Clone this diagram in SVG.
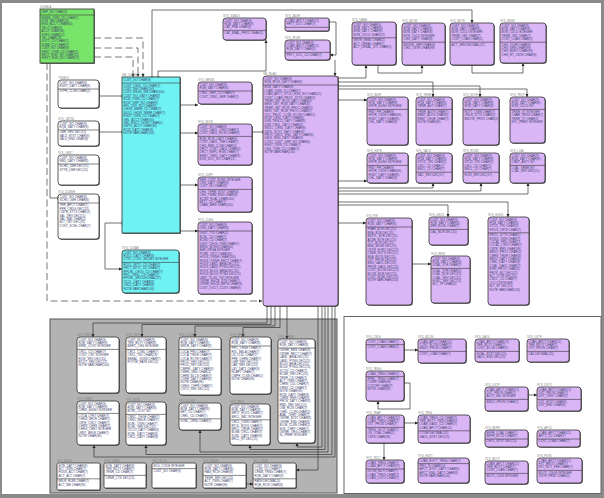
<svg xmlns="http://www.w3.org/2000/svg" width="604" height="498" viewBox="0 0 604 498">
<defs>
<style>
.b{stroke:#333;stroke-width:.8}
.p{fill:#dbb6f7}.c{fill:#6ff2f2}.g{fill:#79e46a}.w{fill:#fff}
.sh{fill:#4a4a4a}
.sep{stroke:#333;stroke-width:.6;fill:none}
.r{font-family:"Liberation Sans",Arial,sans-serif;font-size:3px;fill:#3d3d6b}
.t{font-family:"Liberation Sans",Arial,sans-serif;font-size:2.8px;fill:#808080}
.cn path{fill:none;stroke:#333;stroke-width:.7}
.cn .d{stroke-dasharray:7 3.5;stroke-width:.8;stroke:#555}
</style>
<marker id="arr" viewBox="0 0 6 6" refX="6" refY="3" markerWidth="3.2" markerHeight="3.2" orient="auto" markerUnits="userSpaceOnUse"><path d="M0,0L6,3L0,6z" fill="#222"/></marker>
<marker id="bar" viewBox="0 0 4 8" refX="2" refY="4" markerWidth="2" markerHeight="4" orient="auto" markerUnits="userSpaceOnUse"><path d="M2,0V8" stroke="#222" stroke-width="1.2"/></marker>
</defs>
<rect x="0" y="0" width="604" height="498" fill="#8a8a8a"/>
<rect x="2" y="3" width="599" height="491" fill="#fff"/>
<rect x="50" y="319" width="287" height="174" fill="#b3b3b3" stroke="#555" stroke-width="1"/>
<rect x="344" y="316.5" width="257" height="177" fill="#fff" stroke="#666" stroke-width="1"/>

<g class="cn" id="connectors">
<path class="d" d="M94,38H143V77" marker-end="url(#arr)"/>
<path class="d" d="M94,48H138V77" marker-end="url(#arr)"/>
<path class="d" d="M94,57H133V77" marker-end="url(#arr)"/>
<path class="d" d="M47,63V301H262" marker-end="url(#arr)"/>
<path d="M152,77V10H472V23" marker-start="url(#bar)" marker-end="url(#arr)"/>
<path d="M158,77V71H266V40" marker-start="url(#bar)" marker-end="url(#arr)"/>
<path d="M58,198H50V63" marker-start="url(#bar)"/>
<path d="M99,96H122" marker-start="url(#arr)" marker-end="url(#bar)"/>
<path d="M99,132H122" marker-start="url(#arr)" marker-end="url(#bar)"/>
<path d="M122,223H105V269H122" marker-start="url(#bar)" marker-end="url(#arr)"/>
<path d="M180,105H198" marker-start="url(#bar)" marker-end="url(#arr)"/>
<path d="M180,133H198" marker-start="url(#bar)" marker-end="url(#arr)"/>
<path d="M180,185H198" marker-start="url(#bar)" marker-end="url(#arr)"/>
<path d="M180,231H198" marker-start="url(#bar)" marker-end="url(#arr)"/>
<path d="M252,132H263" marker-start="url(#arr)" marker-end="url(#bar)"/>
<path d="M329,22H336V55H330" marker-end="url(#arr)"/>
<path d="M335,60V76" marker-end="url(#arr)"/>
<path d="M338,78H366V65" marker-start="url(#bar)" marker-end="url(#arr)"/>
<path d="M378,65V73H422V65" marker-start="url(#bar)" marker-end="url(#arr)"/>
<path d="M472,65V73H523V63" marker-start="url(#bar)" marker-end="url(#arr)"/>
<path d="M338,82H433V97" marker-start="url(#bar)" marker-end="url(#arr)"/>
<path d="M338,86H480V97" marker-start="url(#bar)" marker-end="url(#arr)"/>
<path d="M338,89H527V97" marker-start="url(#bar)" marker-end="url(#arr)"/>
<path d="M338,100H367" marker-start="url(#bar)" marker-end="url(#arr)"/>
<path d="M338,181H367" marker-start="url(#bar)" marker-end="url(#arr)"/>
<path d="M338,188H433V183" marker-start="url(#bar)" marker-end="url(#arr)"/>
<path d="M338,191H481V183" marker-start="url(#bar)" marker-end="url(#arr)"/>
<path d="M338,194H528V183" marker-start="url(#bar)" marker-end="url(#arr)"/>
<path d="M338,202H508V217" marker-start="url(#bar)" marker-end="url(#arr)"/>
<path d="M338,205H448V217" marker-start="url(#bar)" marker-end="url(#arr)"/>
<path d="M338,223H366" marker-start="url(#bar)" marker-end="url(#arr)"/>
<path d="M412,264H431" marker-start="url(#bar)" marker-end="url(#arr)"/>
<path d="M267,306V323H93V337" marker-end="url(#arr)"/>
<path d="M271,306V324.5H142V337" marker-end="url(#arr)"/>
<path d="M275,306V326H195V337" marker-end="url(#arr)"/>
<path d="M280,306V327.5H243V337" marker-end="url(#arr)"/>
<path d="M287,306V339" marker-end="url(#arr)"/>
<path d="M335,306V457H94V445" marker-end="url(#arr)"/>
<path d="M332,306V454.5H146V445" marker-end="url(#arr)"/>
<path d="M328,306V452H200V430" marker-end="url(#arr)"/>
<path d="M325,306V449.5H250V445" marker-end="url(#arr)"/>
<path d="M322,306V447H297V443" marker-end="url(#arr)"/>
<path d="M318,306V470H296" marker-end="url(#arr)"/>
<path d="M246,484H253" marker-start="url(#bar)" marker-end="url(#arr)"/>
<path d="M404,350H418" marker-start="url(#bar)" marker-end="url(#arr)"/>
<path d="M404,383H410V409H378V401" marker-start="url(#bar)" marker-end="url(#arr)"/>
<path d="M404,423H418" marker-start="url(#bar)" marker-end="url(#arr)"/>
<path d="M384,443V460" marker-start="url(#bar)" marker-end="url(#arr)"/>
<path d="M528,395H537" marker-start="url(#bar)" marker-end="url(#arr)"/>
</g>

<g id="n-usgbla"><text class="t" x="40" y="7.8">USGBLA</text><rect class="sh" x="40.8" y="9.8" width="54" height="54"/><rect class="b g" x="40" y="9" width="54" height="54"/><path class="sep" d="M40,15h54"/>
<text class="r" y="13.2"><tspan x="41.5">GRP_NO CHAR(9)</tspan></text>
<text class="r" y="18.6"><tspan x="41.5">MGNB_OWN_CD CHAR(7)</tspan><tspan x="41.5" dy="3.4">KOR_NM CHAR(20)</tspan><tspan x="41.5" dy="3.4">ENG_ACCT CHAR(60)</tspan><tspan x="41.5" dy="3.4">TELO CHAR(2)</tspan><tspan x="41.5" dy="3.4">ACCT CHAR(30)</tspan><tspan x="41.5" dy="3.4">STRO CHAR(12)</tspan><tspan x="41.5" dy="3.4">TEL CHAR(18)</tspan><tspan x="41.5" dy="3.4">OUTT_CD CHAR(7)</tspan><tspan x="41.5" dy="3.4">SUBB_CD CHAR(7)</tspan><tspan x="41.5" dy="3.4">CUST_NO CHAR(9)</tspan><tspan x="41.5" dy="3.4">FIRST_OWN_CD CHAR(7)</tspan><tspan x="41.5" dy="3.4">RECT_RGD_NO CHAR(12)</tspan><tspan x="41.5" dy="3.4">FIRST_RGD_NO CHAR(11)</tspan></text></g>

<g id="n-tsgblk"><text class="t" x="58" y="78.8">TSGBLK</text><rect class="sh" x="58.8" y="80.8" width="41" height="28" rx="3"/><rect class="b w" x="58" y="80" width="41" height="28" rx="3"/><path class="sep" d="M58,89h41"/>
<text class="r" y="83.6"><tspan x="59.5">CUST_NO CHAR(9)</tspan><tspan x="59.5" dy="3.4">RGST_DATY CHAR(8)</tspan></text>
<text class="r" y="92.4"><tspan x="59.5">STPR_CLSN CHAR(2)</tspan></text></g>

<g id="n-sys-lmtsz"><text class="t" x="58" y="119.8">SYS_LMTSZ</text><rect class="sh" x="58.8" y="121.8" width="41" height="25" rx="3"/><rect class="b w" x="58" y="121" width="41" height="25" rx="3"/><path class="sep" d="M58,130h41"/>
<text class="r" y="124.6"><tspan x="59.5">CUST_NO CHAR(9)</tspan><tspan x="59.5" dy="3.4">RQB_DATY CHAR(8)</tspan></text>
<text class="r" y="133.4"><tspan x="59.5">LMR_SRV DEC(15)</tspan><tspan x="59.5" dy="3.4">VALD_BTST CHAR(8)</tspan><tspan x="59.5" dy="3.4">VALD_END CHAR(8)</tspan></text></g>

<g id="n-sys-lmst"><text class="t" x="58" y="153.8">SYS_LMST</text><rect class="sh" x="58.8" y="155.8" width="41" height="30" rx="3"/><rect class="b w" x="58" y="155" width="41" height="30" rx="3"/><path class="sep" d="M58,164h41"/>
<text class="r" y="158.6"><tspan x="59.5">CUST_NO CHAR(9)</tspan><tspan x="59.5" dy="3.4">NBD_DATY CHAR(8)</tspan></text>
<text class="r" y="167.4"><tspan x="59.5">SCHD_LMR DEC(15)</tspan><tspan x="59.5" dy="3.4">STTR_LMR DEC(15)</tspan></text></g>

<g id="n-sys-dcbsr"><text class="t" x="58" y="192.8">SYS_DCBSR</text><rect class="sh" x="58.8" y="194.8" width="41" height="45" rx="3"/><rect class="b w" x="58" y="194" width="41" height="45" rx="3"/><path class="sep" d="M58,203h41"/>
<text class="r" y="197.6"><tspan x="59.5">CUST_NO CHAR(9)</tspan><tspan x="59.5" dy="3.4">SCHD_LMR CHAR(8)</tspan></text>
<text class="r" y="206.4"><tspan x="59.5">TRR_APCT CHAR(7)</tspan><tspan x="59.5" dy="3.4">PRR_CRDG DEC(15)</tspan><tspan x="59.5" dy="3.4">CNTR_STTS CHAR(2)</tspan><tspan x="59.5" dy="3.4">SAL_SRV DEC(15)</tspan><tspan x="59.5" dy="3.4">SAL_RAT CHAR(2)</tspan><tspan x="59.5" dy="3.4">BLT_CRT DEC(15)</tspan><tspan x="59.5" dy="3.4">COST_SCHL CHAR(7)</tspan></text></g>

<g id="n-sm-custm"><text class="t" x="122" y="75.8">SM_CUSTM</text><rect class="sh" x="122.8" y="77.8" width="58" height="156"/><rect class="b c" x="122" y="77" width="58" height="156"/><path class="sep" d="M122,83h58"/>
<text class="r" y="81.2"><tspan x="123.5">CUST_NO CHAR(9)</tspan></text>
<text class="r" y="86.6"><tspan x="123.5">CUST_CNSL_CD CHAR(7)</tspan><tspan x="123.5" dy="3.4">CUST_NM CHAR(100)</tspan><tspan x="123.5" dy="3.4">CUST_ENGS_NM CHAR(100)</tspan><tspan x="123.5" dy="3.4">CUST_NO_DATY CHAR(8)</tspan><tspan x="123.5" dy="3.4">RCW_OWN_CD CHAR(7)</tspan><tspan x="123.5" dy="3.4">RCW_GRP_NO CHAR(9)</tspan><tspan x="123.5" dy="3.4">RPL_CHY_NO CHAR(9)</tspan><tspan x="123.5" dy="3.4">LHDW_NBBR_CD CHAR(7)</tspan><tspan x="123.5" dy="3.4">NLDD_LHDW_NBBR CHAR(7)</tspan><tspan x="123.5" dy="3.4">RGST_OWN_CD CHAR(7)</tspan><tspan x="123.5" dy="3.4">GRL_ACCT CHAR(30)</tspan><tspan x="123.5" dy="3.4">GRL_RGCT_NOBT CHAR(1)</tspan><tspan x="123.5" dy="3.4">DMTO_ACCT CHAR(30)</tspan><tspan x="123.5" dy="3.4">RCW_DATY CHAR(8)</tspan><tspan x="123.5" dy="3.4">NOTE VARCHAR(100)</tspan></text></g>

<g id="n-sys-cdsab"><text class="t" x="122" y="248.8">SYS_CDSAB</text><rect class="sh" x="122.8" y="250.8" width="57" height="43" rx="3"/><rect class="b c" x="122" y="250" width="57" height="43" rx="3"/><path class="sep" d="M122,262.4h57"/>
<text class="r" y="253.6"><tspan x="123.5">CUST_NO CHAR(9)</tspan><tspan x="123.5" dy="3.4">RQCL_DATY CHAR(8)</tspan><tspan x="123.5" dy="3.4">CTSC_COST_SEQNO INTEGER</tspan></text>
<text class="r" y="265.8"><tspan x="123.5">RQCL_MTTL_CD CHAR(7)</tspan><tspan x="123.5" dy="3.4">FNCT_MTTL_CD CHAR(7)</tspan><tspan x="123.5" dy="3.4">RPCHL_CRLG_CD CHAR(7)</tspan><tspan x="123.5" dy="3.4">PRC_CRGL_CD CHAR(7)</tspan><tspan x="123.5" dy="3.4">RPCHL_SRV DECIMAL(17)</tspan><tspan x="123.5" dy="3.4">OCCL_DATY CHAR(8)</tspan><tspan x="123.5" dy="3.4">CRCL_DATY CHAR(8)</tspan><tspan x="123.5" dy="3.4">NOTE VARCHAR(100)</tspan></text></g>

<g id="n-sys-sdaux"><text class="t" x="223" y="16.8">SYS_SDAUX</text><rect class="sh" x="223.8" y="18.8" width="43" height="22" rx="3"/><rect class="b p" x="223" y="18" width="43" height="22" rx="3"/><path class="sep" d="M223,30.4h43"/>
<text class="r" y="21.6"><tspan x="224.5">CUST_NO CHAR(9)</tspan><tspan x="224.5" dy="3.4">RQB_DATY CHAR(8)</tspan><tspan x="224.5" dy="3.4">CAT_PNB CHAR(8)</tspan></text>
<text class="r" y="33.8"><tspan x="224.5">CAT_BNAL_PROC CHAR(2)</tspan></text></g>

<g id="n-sys-zajir"><text class="t" x="285" y="16.8">SYS_ZAJIR</text><rect class="sh" x="285.8" y="18.8" width="44" height="13" rx="2"/><rect class="b p" x="285" y="18" width="44" height="13" rx="2"/><path class="sep" d="M285,27.3h44"/>
<text class="r" y="21.6"><tspan x="286.5">LOAN_APCT CHAR(12)</tspan><tspan x="286.5" dy="3.4">PRTT_DOC CHAR(7)</tspan></text></g>

<g id="n-sys-zpjir"><text class="t" x="285" y="38.8">SYS_ZPJIR</text><rect class="sh" x="285.8" y="40.8" width="45" height="20" rx="3"/><rect class="b p" x="285" y="40" width="45" height="20" rx="3"/><path class="sep" d="M285,52.4h45"/>
<text class="r" y="43.6"><tspan x="286.5">CUST_NO CHAR(9)</tspan><tspan x="286.5" dy="3.4">LOAN_APCT CHAR(12)</tspan><tspan x="286.5" dy="3.4">RQB_DATY CHAR(8)</tspan></text>
<text class="r" y="55.8"><tspan x="286.5">PRTT_DOC_CD CHAR(7)</tspan></text></g>

<g id="n-sys-danh"><text class="t" x="352" y="20.8">SYS_DANH</text><rect class="sh" x="352.8" y="22.8" width="44" height="43" rx="3"/><rect class="b p" x="352" y="22" width="44" height="43" rx="3"/><path class="sep" d="M352,37.8h44"/>
<text class="r" y="25.6"><tspan x="353.5">CUST_NO CHAR(9)</tspan><tspan x="353.5" dy="3.4">RQB_DATY CHAR(8)</tspan><tspan x="353.5" dy="3.4">BON_DATY CHAR(8)</tspan><tspan x="353.5" dy="3.4">BON_CUCD CHAR(12)</tspan></text>
<text class="r" y="41.2"><tspan x="353.5">WNTE_BNBL CHAR(2)</tspan><tspan x="353.5" dy="3.4">ACT_CRNAL CHAR(7)</tspan><tspan x="353.5" dy="3.4">ACT_CRNAL_STL CHAR(2)</tspan></text></g>

<g id="n-sys-bdtm"><text class="t" x="402" y="21.8">SYS_BDTM</text><rect class="sh" x="402.8" y="23.8" width="43" height="42" rx="3"/><rect class="b p" x="402" y="23" width="43" height="42" rx="3"/><path class="sep" d="M402,42.2h43"/>
<text class="r" y="26.6"><tspan x="403.5">CUST_NO CHAR(9)</tspan><tspan x="403.5" dy="3.4">RQB_DATY CHAR(8)</tspan><tspan x="403.5" dy="3.4">BON_DATY CHAR(8)</tspan><tspan x="403.5" dy="3.4">BON_CUCD INTEGER</tspan><tspan x="403.5" dy="3.4">CHG_DATY CHAR(8)</tspan></text>
<text class="r" y="45.6"><tspan x="403.5">MSSVE_GRP CHAR(9)</tspan><tspan x="403.5" dy="3.4">CHG_CNTE CHAR(99)</tspan></text></g>

<g id="n-sys-bdtr"><text class="t" x="450" y="21.8">SYS_BDTR</text><rect class="sh" x="450.8" y="23.8" width="44" height="42" rx="3"/><rect class="b p" x="450" y="23" width="44" height="42" rx="3"/><path class="sep" d="M450,42.2h44"/>
<text class="r" y="26.6"><tspan x="451.5">CUST_NO CHAR(9)</tspan><tspan x="451.5" dy="3.4">BON_DATY CHAR(8)</tspan><tspan x="451.5" dy="3.4">BON_CUCD INTEGER</tspan><tspan x="451.5" dy="3.4">TRNR_OBT CHAR(7)</tspan><tspan x="451.5" dy="3.4">COST_LOAN CHAR(2)</tspan></text>
<text class="r" y="45.6"><tspan x="451.5">ACT_SRV DECIMAL(17)</tspan></text></g>

<g id="n-sys-bdhs"><text class="t" x="500" y="21.8">SYS_BDHS</text><rect class="sh" x="500.8" y="23.8" width="46" height="40" rx="3"/><rect class="b p" x="500" y="23" width="46" height="40" rx="3"/><path class="sep" d="M500,42.2h46"/>
<text class="r" y="26.6"><tspan x="501.5">CUST_NO CHAR(9)</tspan><tspan x="501.5" dy="3.4">BON_DATY CHAR(8)</tspan><tspan x="501.5" dy="3.4">BON_CUCD INTEGER</tspan><tspan x="501.5" dy="3.4">TRNR_OBT CHAR(7)</tspan><tspan x="501.5" dy="3.4">COST_LOAN CHAR(2)</tspan></text>
<text class="r" y="45.6"><tspan x="501.5">CHG_OLVR CHAR(9)</tspan><tspan x="501.5" dy="3.4">CHG_SRB CHAR(99)</tspan><tspan x="501.5" dy="3.4">CHG_BDFO CHAR(99)</tspan><tspan x="501.5" dy="3.4">CHG_RT_CNTE CHAR(9)</tspan></text></g>

<g id="n-sys-grsib"><text class="t" x="198" y="80.8">SYS_GRSIB</text><rect class="sh" x="198.8" y="82.8" width="54" height="22" rx="3"/><rect class="b p" x="198" y="82" width="54" height="22" rx="3"/><path class="sep" d="M198,91h54"/>
<text class="r" y="85.6"><tspan x="199.5">CUST_NO CHAR(9)</tspan><tspan x="199.5" dy="3.4">RQB_DATY CHAR(8)</tspan></text>
<text class="r" y="94.4"><tspan x="199.5">CNSL_GRP_CD CHAR(7)</tspan><tspan x="199.5" dy="3.4">COST_CNSL_GRP CHAR(7)</tspan></text></g>

<g id="n-sys-sdtb"><text class="t" x="198" y="122.8">SYS_SDTB</text><rect class="sh" x="198.8" y="124.8" width="54" height="41" rx="3"/><rect class="b p" x="198" y="124" width="54" height="41" rx="3"/><path class="sep" d="M198,136.4h54"/>
<text class="r" y="127.6"><tspan x="199.5">CUST_NO CHAR(9)</tspan><tspan x="199.5" dy="3.4">COST_DAOL_CHG CHAR(7)</tspan><tspan x="199.5" dy="3.4">COST_DAOL_RCW CHAR(8)</tspan></text>
<text class="r" y="139.8"><tspan x="199.5">RQB_RCW_DATY CHAR(8)</tspan><tspan x="199.5" dy="3.4">COST_DAOL_TRR CHAR(7)</tspan><tspan x="199.5" dy="3.4">CHG_RBN_CLSB CHAR(2)</tspan><tspan x="199.5" dy="3.4">DRCT_COST_DAOL CHAR(2)</tspan><tspan x="199.5" dy="3.4">DRCT_BNPL_RGN CHAR(7)</tspan><tspan x="199.5" dy="3.4">ERNC_CRNL_DATY CHAR(8)</tspan><tspan x="199.5" dy="3.4">BON_DOC_NO CHAR(12)</tspan></text></g>

<g id="n-sys-cdpf"><text class="t" x="198" y="175.8">SYS_CDPF</text><rect class="sh" x="198.8" y="177.8" width="54" height="35" rx="3"/><rect class="b p" x="198" y="177" width="54" height="35" rx="3"/><path class="sep" d="M198,189.4h54"/>
<text class="r" y="180.6"><tspan x="199.5">NBR_COST_BOND INTEGER</tspan><tspan x="199.5" dy="3.4">CHG_DATY CHAR(8)</tspan><tspan x="199.5" dy="3.4">CUST_NO CHAR(9)</tspan></text>
<text class="r" y="192.8"><tspan x="199.5">CHG_TERM_BTST CHAR(8)</tspan><tspan x="199.5" dy="3.4">CHG_TERM_END CHAR(8)</tspan><tspan x="199.5" dy="3.4">BCNW_RLAL CHAR(100)</tspan><tspan x="199.5" dy="3.4">BBTT_CD CHAR(7)</tspan><tspan x="199.5" dy="3.4">CHAN_BRW CHAR(100)</tspan></text></g>

<g id="n-sys-cdhs"><text class="t" x="198" y="220.8">SYS_CDHS</text><rect class="sh" x="198.8" y="222.8" width="54" height="72" rx="3"/><rect class="b p" x="198" y="222" width="54" height="72" rx="3"/><path class="sep" d="M198,231h54"/>
<text class="r" y="225.6"><tspan x="199.5">CUST_NO CHAR(9)</tspan><tspan x="199.5" dy="3.4">CHG_DATY CHAR(8)</tspan></text>
<text class="r" y="234.4"><tspan x="199.5">DIGIT_TYD CHAR(2)</tspan><tspan x="199.5" dy="3.4">BCNL_CD CHAR(7)</tspan><tspan x="199.5" dy="3.4">BCBD_CD CHAR(7)</tspan><tspan x="199.5" dy="3.4">DIGIT_CHLB_OWN CHAR(7)</tspan><tspan x="199.5" dy="3.4">BMSD_BCHG CHAR(60)</tspan><tspan x="199.5" dy="3.4">BBR_DRGA INTEGER</tspan><tspan x="199.5" dy="3.4">PCRN_CNTT CHAR(60)</tspan><tspan x="199.5" dy="3.4">HOUS_OWNR CHAR(100)</tspan><tspan x="199.5" dy="3.4">HOUS_OWNR_RECT CHAR(7)</tspan><tspan x="199.5" dy="3.4">HOUS_LAND_ARIA DEC(15)</tspan><tspan x="199.5" dy="3.4">HOUS_LAND_PYNG DEC(15)</tspan><tspan x="199.5" dy="3.4">HOUS_BLDG_ARIA DEC(15)</tspan><tspan x="199.5" dy="3.4">HOUS_BLDG_PYNG DEC(15)</tspan><tspan x="199.5" dy="3.4">LBBT_OLGS_CNT INTEGER</tspan><tspan x="199.5" dy="3.4">OWNR_RGCB_STN CHAR(7)</tspan><tspan x="199.5" dy="3.4">OWNR_RGCB_BRTH CHAR(8)</tspan><tspan x="199.5" dy="3.4">COST_DOCT_CUST CHAR(9)</tspan></text></g>

<g id="n-sm-bdax"><text class="t" x="263" y="74.6">SM_BDAX</text><rect class="sh" x="263.8" y="76.8" width="75" height="230" rx="3"/><rect class="b p" x="263" y="76" width="75" height="230" rx="3"/><path class="sep" d="M263,85h75"/>
<text class="r" y="79.6"><tspan x="264.5">CUST_NO CHAR(9)</tspan><tspan x="264.5" dy="3.4">RQB_RCW_DATY CHAR(8)</tspan></text>
<text class="r" y="88.4"><tspan x="264.5">BON_DATY CHAR(8)</tspan><tspan x="264.5" dy="3.4">LOAN_OWN_CD CHAR(7)</tspan><tspan x="264.5" dy="3.4">LOAN_APCT_STCD_RGS_NO CHAR(12)</tspan><tspan x="264.5" dy="3.4">COST_LOAN_PROC_STTS CHAR(2)</tspan><tspan x="264.5" dy="3.4">TRNR_OBT_RCW_DATY CHAR(8)</tspan><tspan x="264.5" dy="3.4">NEW_OBT_RQB_DATY CHAR(8)</tspan><tspan x="264.5" dy="3.4">TRNR_OBT_RCW_PROC CHAR(2)</tspan><tspan x="264.5" dy="3.4">NEW_OBT_RCW_PROC CHAR(2)</tspan><tspan x="264.5" dy="3.4">OCC_PROC_CLSN_SCOW CHAR(1)</tspan><tspan x="264.5" dy="3.4">RCW_CRSL_DATY CHAR(8)</tspan><tspan x="264.5" dy="3.4">DSN_TRSCD_DATY CHAR(8)</tspan><tspan x="264.5" dy="3.4">DSN_CRSL_DATY CHAR(8)</tspan><tspan x="264.5" dy="3.4">WSCC_CRSL_DATY CHAR(8)</tspan><tspan x="264.5" dy="3.4">DBOL_BTST_DATY CHAR(8)</tspan><tspan x="264.5" dy="3.4">PROC_DBOL_END_DATY CHAR(8)</tspan><tspan x="264.5" dy="3.4">DBOL_END_DATY CHAR(8)</tspan><tspan x="264.5" dy="3.4">COST_CUST_GRP_NO CHAR(9)</tspan><tspan x="264.5" dy="3.4">RGST_OWN_CD CHAR(7)</tspan><tspan x="264.5" dy="3.4">CHG_OWN_CD CHAR(7)</tspan><tspan x="264.5" dy="3.4">NOTE VARCHAR(100)</tspan></text></g>

<g id="n-sys-bdht"><text class="t" x="367" y="95.8">SYS_BDHT</text><rect class="sh" x="367.8" y="97.8" width="41" height="48" rx="3"/><rect class="b p" x="367" y="97" width="41" height="48" rx="3"/><path class="sep" d="M367,109.4h41"/>
<text class="r" y="100.6"><tspan x="368.5">CUST_NO CHAR(9)</tspan><tspan x="368.5" dy="3.4">RQB_DATY CHAR(8)</tspan><tspan x="368.5" dy="3.4">HSTR_BGNO INTEGER</tspan></text>
<text class="r" y="112.8"><tspan x="368.5">RNO_PR CHAR(9)</tspan><tspan x="368.5" dy="3.4">HSTR_CNTE CHAR(99)</tspan><tspan x="368.5" dy="3.4">RGST_DATY CHAR(8)</tspan><tspan x="368.5" dy="3.4">CHL_DATY CHAR(8)</tspan></text></g>

<g id="n-sys-trnr"><text class="t" x="416" y="95.8">SYS_TRNR</text><rect class="sh" x="416.8" y="97.8" width="36" height="48" rx="3"/><rect class="b p" x="416" y="97" width="36" height="48" rx="3"/><path class="sep" d="M416,109.4h36"/>
<text class="r" y="100.6"><tspan x="417.5">CUST_NO CHAR(9)</tspan><tspan x="417.5" dy="3.4">RQB_DATY CHAR(8)</tspan><tspan x="417.5" dy="3.4">TRNR_AUT CHAR(7)</tspan></text>
<text class="r" y="112.8"><tspan x="417.5">TRNR_AUTS CHAR(7)</tspan><tspan x="417.5" dy="3.4">RBBT_AUTS CHAR(8)</tspan><tspan x="417.5" dy="3.4">RBBT_CHGE CHAR(7)</tspan><tspan x="417.5" dy="3.4">NOTE CHAR(99)</tspan></text></g>

<g id="n-sys-note"><text class="t" x="463" y="95.8">SYS_NOTE</text><rect class="sh" x="463.8" y="97.8" width="36" height="48" rx="3"/><rect class="b p" x="463" y="97" width="36" height="48" rx="3"/><path class="sep" d="M463,109.4h36"/>
<text class="r" y="100.6"><tspan x="464.5">CUST_NO CHAR(9)</tspan><tspan x="464.5" dy="3.4">RQB_DATY CHAR(8)</tspan><tspan x="464.5" dy="3.4">BON_DATY CHAR(8)</tspan></text>
<text class="r" y="112.8"><tspan x="464.5">NOTT_OWN CHAR(7)</tspan><tspan x="464.5" dy="3.4">ONLR_STTS CHAR(2)</tspan><tspan x="464.5" dy="3.4">BNOTE_PROC CHAR(2)</tspan></text></g>

<g id="n-sys-trqt"><text class="t" x="510" y="95.8">SYS_TRQT</text><rect class="sh" x="510.8" y="97.8" width="35" height="46" rx="3"/><rect class="b p" x="510" y="97" width="35" height="46" rx="3"/><path class="sep" d="M510,109.4h35"/>
<text class="r" y="100.6"><tspan x="511.5">CUST_NO CHAR(9)</tspan><tspan x="511.5" dy="3.4">RQB_DATY CHAR(8)</tspan><tspan x="511.5" dy="3.4">BON_CUCD INT</tspan></text>
<text class="r" y="112.8"><tspan x="511.5">TRNR_QT INTEGER</tspan><tspan x="511.5" dy="3.4">CHAR_SPSG CHAR(7)</tspan><tspan x="511.5" dy="3.4">TRNR_QT CHAR(2)</tspan><tspan x="511.5" dy="3.4">ETC_PRMO INTEGER</tspan></text></g>

<g id="n-sys-hstr"><text class="t" x="367" y="151.8">SYS_HSTR</text><rect class="sh" x="367.8" y="153.8" width="41" height="30" rx="3"/><rect class="b p" x="367" y="153" width="41" height="30" rx="3"/><path class="sep" d="M367,165.4h41"/>
<text class="r" y="156.6"><tspan x="368.5">CUST_NO CHAR(9)</tspan><tspan x="368.5" dy="3.4">RQB_DATY CHAR(8)</tspan><tspan x="368.5" dy="3.4">HSTR_BGNO INTEGER</tspan></text>
<text class="r" y="168.8"><tspan x="368.5">RNO_PR CHAR(9)</tspan><tspan x="368.5" dy="3.4">HSTR_CNTE CHAR(99)</tspan><tspan x="368.5" dy="3.4">RGST_DATY CHAR(8)</tspan><tspan x="368.5" dy="3.4">CHL_DATY CHAR(8)</tspan></text></g>

<g id="n-sys-sacs"><text class="t" x="416" y="151.8">SYS_SACS</text><rect class="sh" x="416.8" y="153.8" width="36" height="30" rx="3"/><rect class="b p" x="416" y="153" width="36" height="30" rx="3"/><path class="sep" d="M416,172.2h36"/>
<text class="r" y="156.6"><tspan x="417.5">CUST_NO CHAR(9)</tspan><tspan x="417.5" dy="3.4">RQB_DATY CHAR(8)</tspan><tspan x="417.5" dy="3.4">STCD_TPD CHAR(2)</tspan><tspan x="417.5" dy="3.4">LNCL_CD CHAR(7)</tspan><tspan x="417.5" dy="3.4">BNCL_CD CHAR(7)</tspan></text>
<text class="r" y="175.6"><tspan x="417.5">SAC_SRV DEC(17)</tspan></text></g>

<g id="n-sys-rcws"><text class="t" x="463" y="151.8">SYS_RCWS</text><rect class="sh" x="463.8" y="153.8" width="36" height="30" rx="3"/><rect class="b p" x="463" y="153" width="36" height="30" rx="3"/><path class="sep" d="M463,172.2h36"/>
<text class="r" y="156.6"><tspan x="464.5">CUST_NO CHAR(9)</tspan><tspan x="464.5" dy="3.4">RQB_DATY CHAR(8)</tspan><tspan x="464.5" dy="3.4">STCD_TPD CHAR(2)</tspan><tspan x="464.5" dy="3.4">LNCL_CD CHAR(7)</tspan><tspan x="464.5" dy="3.4">BNCL_CD CHAR(7)</tspan></text>
<text class="r" y="175.6"><tspan x="464.5">RCW_SRV DEC(17)</tspan></text></g>

<g id="n-sys-loal"><text class="t" x="510" y="151.8">SYS_LOAL</text><rect class="sh" x="510.8" y="153.8" width="35" height="30" rx="3"/><rect class="b p" x="510" y="153" width="35" height="30" rx="3"/><path class="sep" d="M510,165.4h35"/>
<text class="r" y="156.6"><tspan x="511.5">CUST_NO CHAR(9)</tspan><tspan x="511.5" dy="3.4">RQB_DATY CHAR(8)</tspan><tspan x="511.5" dy="3.4">CNNT_ANTY INT</tspan></text>
<text class="r" y="168.8"><tspan x="511.5">LOAL_SRBR INT</tspan><tspan x="511.5" dy="3.4">LOAL_SRV DEC(15)</tspan></text></g>

<g id="n-sys-fin"><text class="t" x="366" y="216.8">SYS_FIN</text><rect class="sh" x="366.8" y="218.8" width="46" height="87" rx="3"/><rect class="b p" x="366" y="218" width="46" height="87" rx="3"/><path class="sep" d="M366,227h46"/>
<text class="r" y="221.6"><tspan x="367.5">CUST_NO CHAR(9)</tspan><tspan x="367.5" dy="3.4">RQB_DATY CHAR(8)</tspan></text>
<text class="r" y="230.4"><tspan x="367.5">FNAR_BCR DEC(15)</tspan><tspan x="367.5" dy="3.4">BKA_BCR DEC(15)</tspan><tspan x="367.5" dy="3.4">BKVTL_BCR DEC(15)</tspan><tspan x="367.5" dy="3.4">ACNB_BCR DEC(15)</tspan><tspan x="367.5" dy="3.4">TOT_BCR DEC(15)</tspan><tspan x="367.5" dy="3.4">BND_BKGN DEC(15)</tspan><tspan x="367.5" dy="3.4">OSTR_EURO DEC(15)</tspan><tspan x="367.5" dy="3.4">CNNE_EUTS DEC(15)</tspan><tspan x="367.5" dy="3.4">BKA_EUTS DEC(15)</tspan><tspan x="367.5" dy="3.4">OXT_PRON DEC(15)</tspan><tspan x="367.5" dy="3.4">BND_GAOL DEC(15)</tspan><tspan x="367.5" dy="3.4">PRON_GAOL DEC(15)</tspan><tspan x="367.5" dy="3.4">COST_BCON DEC(15)</tspan><tspan x="367.5" dy="3.4">BCON_BCR DEC(15)</tspan><tspan x="367.5" dy="3.4">COST_EUML DEC(15)</tspan><tspan x="367.5" dy="3.4">NOTE VARCHAR(100)</tspan></text></g>

<g id="n-sys-deox"><text class="t" x="429" y="215.8">SYS_DEOX</text><rect class="sh" x="429.8" y="217.8" width="39" height="28" rx="3"/><rect class="b p" x="429" y="217" width="39" height="28" rx="3"/><path class="sep" d="M429,229.4h39"/>
<text class="r" y="220.6"><tspan x="430.5">CUST_NO CHAR(9)</tspan><tspan x="430.5" dy="3.4">RQB_DATY CHAR(8)</tspan><tspan x="430.5" dy="3.4">BRK_BCNL CHAR(7)</tspan></text>
<text class="r" y="232.8"><tspan x="430.5">DAL_BCR DEC(15)</tspan></text></g>

<g id="n-sys-rfin"><text class="t" x="431" y="254.8">SYS_RFIN</text><rect class="sh" x="431.8" y="256.8" width="39" height="47" rx="3"/><rect class="b p" x="431" y="256" width="39" height="47" rx="3"/><path class="sep" d="M431,268.4h39"/>
<text class="r" y="259.6"><tspan x="432.5">CUST_NO CHAR(9)</tspan><tspan x="432.5" dy="3.4">RQB_DATY CHAR(8)</tspan><tspan x="432.5" dy="3.4">DOAL_STR CHAR(7)</tspan></text>
<text class="r" y="271.8"><tspan x="432.5">DOAL_STR CHAR(2)</tspan><tspan x="432.5" dy="3.4">DOAL_BCR DEC(15)</tspan><tspan x="432.5" dy="3.4">COAL_SRV DEC(15)</tspan><tspan x="432.5" dy="3.4">FUNC_SRV DEC(15)</tspan><tspan x="432.5" dy="3.4">BLT_TP CHAR(2)</tspan></text></g>

<g id="n-sys-hous"><text class="t" x="488" y="215.8">SYS_HOUS</text><rect class="sh" x="488.8" y="217.8" width="41" height="88" rx="3"/><rect class="b p" x="488" y="217" width="41" height="88" rx="3"/><path class="sep" d="M488,232.8h41"/>
<text class="r" y="220.6"><tspan x="489.5">CUST_NO CHAR(9)</tspan><tspan x="489.5" dy="3.4">RQB_DATY CHAR(8)</tspan><tspan x="489.5" dy="3.4">STCD_TPD CHAR(2)</tspan><tspan x="489.5" dy="3.4">HOUS_CRTE CHAR(7)</tspan></text>
<text class="r" y="236.2"><tspan x="489.5">PROC_STTS CHAR(2)</tspan><tspan x="489.5" dy="3.4">BONG_OWN CHAR(7)</tspan><tspan x="489.5" dy="3.4">LOCAL_PRD CHAR(7)</tspan><tspan x="489.5" dy="3.4">LOCAL_LTRO CHAR(7)</tspan><tspan x="489.5" dy="3.4">CRTR_RMS CHAR(99)</tspan><tspan x="489.5" dy="3.4">BRKO_PROC CHAR(2)</tspan><tspan x="489.5" dy="3.4">CNRN_TRDR CHAR(8)</tspan><tspan x="489.5" dy="3.4">BRKO_DATY CHAR(8)</tspan><tspan x="489.5" dy="3.4">CNRL_DATY CHAR(8)</tspan><tspan x="489.5" dy="3.4">COAL_GAOL CHAR(7)</tspan><tspan x="489.5" dy="3.4">BTRI_PROC CHAR(2)</tspan><tspan x="489.5" dy="3.4">PROK_BLT DEC(15)</tspan><tspan x="489.5" dy="3.4">BLT_LCTR DEC(15)</tspan><tspan x="489.5" dy="3.4">CNCC_CD CHAR(7)</tspan><tspan x="489.5" dy="3.4">OCCO INTEGER</tspan><tspan x="489.5" dy="3.4">BLT_RT DEC(15)</tspan><tspan x="489.5" dy="3.4">NOTE VARCHAR(100)</tspan></text></g>

<g id="n-br-a"><text class="t" x="366" y="337.8">SYS_CSLN</text><rect class="sh" x="366.8" y="339.8" width="38" height="23" rx="3"/><rect class="b p" x="366" y="339" width="38" height="23" rx="3"/><path class="sep" d="M366,344.6h38"/>
<text class="r" y="342.6"><tspan x="367.5">COST_LOAN CHAR(7)</tspan></text>
<text class="r" y="348"><tspan x="367.5">COST_LOAN CHAR(2)</tspan></text></g>

<g id="n-br-b"><text class="t" x="418" y="337.8">SYS_BCON</text><rect class="sh" x="418.8" y="339.8" width="48" height="24" rx="3"/><rect class="b p" x="418" y="339" width="48" height="24" rx="3"/><path class="sep" d="M418,351.4h48"/>
<text class="r" y="342.6"><tspan x="419.5">LOAN_APCT CHAR(12)</tspan><tspan x="419.5" dy="3.4">COST_BCON CHAR(7)</tspan><tspan x="419.5" dy="3.4">BNDO_PRON CHAR(7)</tspan></text>
<text class="r" y="354.8"><tspan x="419.5">COST_LOAN CHAR(7)</tspan></text></g>

<g id="n-br-c"><text class="t" x="475" y="337.8">SYS_GAOL</text><rect class="sh" x="475.8" y="339.8" width="44" height="23" rx="3"/><rect class="b p" x="475" y="339" width="44" height="23" rx="3"/><path class="sep" d="M475,351.4h44"/>
<text class="r" y="342.6"><tspan x="476.5">LOAN_APCT CHAR(12)</tspan><tspan x="476.5" dy="3.4">TRR_BDTY CHAR(7)</tspan><tspan x="476.5" dy="3.4">COST_BCON CHAR(7)</tspan></text>
<text class="r" y="354.8"><tspan x="476.5">GOAL_BTST DEC(15)</tspan><tspan x="476.5" dy="3.4">GAOL_END DEC(15)</tspan></text></g>

<g id="n-br-d"><text class="t" x="527" y="337.8">SYS_OXTP</text><rect class="sh" x="527.8" y="339.8" width="42" height="23" rx="3"/><rect class="b p" x="527" y="339" width="42" height="23" rx="3"/><path class="sep" d="M527,351.4h42"/>
<text class="r" y="342.6"><tspan x="528.5">LOAN_APCT CHAR(12)</tspan><tspan x="528.5" dy="3.4">TRR_BDTY CHAR(7)</tspan><tspan x="528.5" dy="3.4">OXT_PRON CHAR(7)</tspan></text>
<text class="r" y="354.8"><tspan x="528.5">CAL DECIMAL(15)</tspan></text></g>

<g id="n-br-e"><text class="t" x="366" y="369.8">SYS_TRNG</text><rect class="sh" x="366.8" y="371.8" width="38" height="30" rx="3"/><rect class="b p" x="366" y="371" width="38" height="30" rx="3"/><path class="sep" d="M366,376.6h38"/>
<text class="r" y="374.6"><tspan x="367.5">LOAN_TRNG CHAR(7)</tspan></text>
<text class="r" y="380"><tspan x="367.5">RPRL_TRNG CHAR(7)</tspan><tspan x="367.5" dy="3.4">CORR CHAR(99)</tspan><tspan x="367.5" dy="3.4">CUTOFF CHAR(7)</tspan><tspan x="367.5" dy="3.4">NOTE CHAR(99)</tspan></text></g>

<g id="n-br-f"><text class="t" x="366" y="413.8">SYS_TRAP</text><rect class="sh" x="366.8" y="415.8" width="38" height="28" rx="3"/><rect class="b p" x="366" y="415" width="38" height="28" rx="3"/><path class="sep" d="M366,427.4h38"/>
<text class="r" y="418.6"><tspan x="367.5">LOAN_APCT CHAR(12)</tspan><tspan x="367.5" dy="3.4">LOAN_TRNG CHAR(7)</tspan><tspan x="367.5" dy="3.4">OXT_PRON CHAR(7)</tspan></text>
<text class="r" y="430.8"><tspan x="367.5">TRNG_GLCT CHAR(7)</tspan><tspan x="367.5" dy="3.4">LW_COAL CHAR(2)</tspan><tspan x="367.5" dy="3.4">CNTE CHAR(99)</tspan></text></g>

<g id="n-br-g"><text class="t" x="418" y="413.8">SYS_TRGL</text><rect class="sh" x="418.8" y="415.8" width="52" height="28" rx="3"/><rect class="b p" x="418" y="415" width="52" height="28" rx="3"/><path class="sep" d="M418,430.8h52"/>
<text class="r" y="418.6"><tspan x="419.5">LOAN_TRNG_CD CHAR(7)</tspan><tspan x="419.5" dy="3.4">TRR_BDTY_OWN CHAR(7)</tspan><tspan x="419.5" dy="3.4">LOAN_GAOL_CD CHAR(7)</tspan><tspan x="419.5" dy="3.4">LOAN_APCT CHAR(12)</tspan></text>
<text class="r" y="434.2"><tspan x="419.5">CTORI DECIMAL(15)</tspan><tspan x="419.5" dy="3.4">GAOL_BTST DEC(15)</tspan></text></g>

<g id="n-br-h"><text class="t" x="366" y="458.8">SYS_TRCT</text><rect class="sh" x="366.8" y="460.8" width="38" height="23" rx="3"/><rect class="b p" x="366" y="460" width="38" height="23" rx="3"/><path class="sep" d="M366,469h38"/>
<text class="r" y="463.6"><tspan x="367.5">LOAN_TRNG CHAR(7)</tspan><tspan x="367.5" dy="3.4">LOAN_APCT CHAR(12)</tspan></text>
<text class="r" y="472.4"><tspan x="367.5">GTOM_BUTI CHAR(7)</tspan><tspan x="367.5" dy="3.4">LOAN_TRNG CHAR(7)</tspan><tspan x="367.5" dy="3.4">LOAN_CUTO CHAR(7)</tspan></text></g>

<g id="n-br-i"><text class="t" x="418" y="456.8">SYS_RGTT</text><rect class="sh" x="418.8" y="458.8" width="51" height="25" rx="3"/><rect class="b p" x="418" y="458" width="51" height="25" rx="3"/><path class="sep" d="M418,463.6h51"/>
<text class="r" y="461.6"><tspan x="419.5">LOAN_RGTT_TRNG CHAR(7)</tspan></text>
<text class="r" y="467"><tspan x="419.5">PRO_ID CHAR(10)</tspan><tspan x="419.5" dy="3.4">APCT_BTST_DATY CHAR(8)</tspan><tspan x="419.5" dy="3.4">APCT_END_DATY CHAR(8)</tspan><tspan x="419.5" dy="3.4">NOTE VARCHAR(100)</tspan></text></g>

<g id="n-br-j"><text class="t" x="485" y="385.8">SYS_DXTP</text><rect class="sh" x="485.8" y="387.8" width="43" height="24" rx="3"/><rect class="b p" x="485" y="387" width="43" height="24" rx="3"/><path class="sep" d="M485,399.4h43"/>
<text class="r" y="390.6"><tspan x="486.5">LOAN_APCT CHAR(12)</tspan><tspan x="486.5" dy="3.4">DXT_PRON CHAR(7)</tspan><tspan x="486.5" dy="3.4">ALTO_SBL INTEGER</tspan></text>
<text class="r" y="402.8"><tspan x="486.5">BNDO_PRON CHAR(7)</tspan></text></g>

<g id="n-br-k"><text class="t" x="537" y="385.8">SYS_DXTO</text><rect class="sh" x="537.8" y="387.8" width="44" height="24" rx="3"/><rect class="b p" x="537" y="387" width="44" height="24" rx="3"/><path class="sep" d="M537,399.4h44"/>
<text class="r" y="390.6"><tspan x="538.5">LOAN_APCT CHAR(12)</tspan><tspan x="538.5" dy="3.4">DXT_PRON CHAR(7)</tspan><tspan x="538.5" dy="3.4">DXT_ONST CHAR(2)</tspan></text>
<text class="r" y="402.8"><tspan x="538.5">DXT_BTST CHAR(8)</tspan><tspan x="538.5" dy="3.4">DXT_END CHAR(8)</tspan></text></g>

<g id="n-br-l"><text class="t" x="485" y="428.8">SYS_BKPR</text><rect class="sh" x="485.8" y="430.8" width="43" height="17" rx="3"/><rect class="b p" x="485" y="430" width="43" height="17" rx="3"/><path class="sep" d="M485,439h43"/>
<text class="r" y="433.6"><tspan x="486.5">BKPR_COAL CHAR(7)</tspan><tspan x="486.5" dy="3.4">BKPR_BTCD CHAR(7)</tspan></text>
<text class="r" y="442.4"><tspan x="486.5">CHOL_BTST DEC(15)</tspan></text></g>

<g id="n-br-m"><text class="t" x="537" y="428.8">SYS_APCD</text><rect class="sh" x="537.8" y="430.8" width="43" height="17" rx="3"/><rect class="b p" x="537" y="430" width="43" height="17" rx="3"/><path class="sep" d="M537,439h43"/>
<text class="r" y="433.6"><tspan x="538.5">LOAN_APCT CHAR(12)</tspan><tspan x="538.5" dy="3.4">APCT_CD CHAR(7)</tspan></text>
<text class="r" y="442.4"><tspan x="538.5">COST_LOAN CHAR(7)</tspan></text></g>

<g id="n-br-n"><text class="t" x="485" y="459.8">SYS_BDOY</text><rect class="sh" x="485.8" y="461.8" width="43" height="23" rx="3"/><rect class="b p" x="485" y="461" width="43" height="23" rx="3"/><path class="sep" d="M485,473.4h43"/>
<text class="r" y="464.6"><tspan x="486.5">LOAN_APCT CHAR(12)</tspan><tspan x="486.5" dy="3.4">TRR_BDTY CHAR(7)</tspan><tspan x="486.5" dy="3.4">COST_LOAN CHAR(7)</tspan></text>
<text class="r" y="476.8"><tspan x="486.5">BDOY_CGIS INTEGER</tspan></text></g>

<g id="n-br-o"><text class="t" x="537" y="456.8">SYS_FXTB</text><rect class="sh" x="537.8" y="458.8" width="45" height="25" rx="3"/><rect class="b p" x="537" y="458" width="45" height="25" rx="3"/><path class="sep" d="M537,470.4h45"/>
<text class="r" y="461.6"><tspan x="538.5">LOAN_APCT CHAR(12)</tspan><tspan x="538.5" dy="3.4">FXT_BROO CHAR(7)</tspan><tspan x="538.5" dy="3.4">FXT_NCT_FRE CHAR(7)</tspan></text>
<text class="r" y="473.8"><tspan x="538.5">BDOY_CGGS INTEGER</tspan><tspan x="538.5" dy="3.4">OUTP_PRNT CHAR(2)</tspan></text></g>

<g id="n-gw1"><text class="t" x="77" y="335.8">SYS_CRCL</text><rect class="sh" x="77.8" y="337.8" width="42" height="56" rx="3"/><rect class="b w" x="77" y="337" width="42" height="56" rx="3"/><path class="sep" d="M77,349.4h42"/>
<text class="r" y="340.6"><tspan x="78.5">CUST_NO CHAR(9)</tspan><tspan x="78.5" dy="3.4">RQB_DATY CHAR(8)</tspan><tspan x="78.5" dy="3.4">BNRL_COST INTEGER</tspan></text>
<text class="r" y="352.8"><tspan x="78.5">CRCL_CD CHAR(7)</tspan><tspan x="78.5" dy="3.4">COST_CNT INTEGER</tspan><tspan x="78.5" dy="3.4">RCW_SRV DEC(15)</tspan><tspan x="78.5" dy="3.4">RCOT_SRV DEC(17)</tspan><tspan x="78.5" dy="3.4">NOTE VARCHAR(100)</tspan></text></g>

<g id="n-gw2"><text class="t" x="126" y="335.8">SYS_CRTL</text><rect class="sh" x="126.8" y="337.8" width="40" height="56" rx="3"/><rect class="b w" x="126" y="337" width="40" height="56" rx="3"/><path class="sep" d="M126,349.4h40"/>
<text class="r" y="340.6"><tspan x="127.5">CUST_NO CHAR(9)</tspan><tspan x="127.5" dy="3.4">TRR_BDTY CHAR(8)</tspan><tspan x="127.5" dy="3.4">BBRC_CHG INTEGER</tspan></text>
<text class="r" y="352.8"><tspan x="127.5">CRCL_COBL CHAR(7)</tspan><tspan x="127.5" dy="3.4">CRCL_TEL CHAR(18)</tspan><tspan x="127.5" dy="3.4">BBRAL_OUKB CHAR(7)</tspan><tspan x="127.5" dy="3.4">FOTOE_RATE DEC(5)</tspan></text></g>

<g id="n-gw3"><text class="t" x="179" y="335.8">SYS_LOCA</text><rect class="sh" x="179.8" y="337.8" width="42" height="58" rx="3"/><rect class="b w" x="179" y="337" width="42" height="58" rx="3"/><path class="sep" d="M179,349.4h42"/>
<text class="r" y="340.6"><tspan x="180.5">CUST_NO CHAR(9)</tspan><tspan x="180.5" dy="3.4">RQB_DATY CHAR(8)</tspan><tspan x="180.5" dy="3.4">BNCH_DATY CHAR(8)</tspan></text>
<text class="r" y="352.8"><tspan x="180.5">LOCA_PRD CHAR(7)</tspan><tspan x="180.5" dy="3.4">LOCA_TRDR CHAR(7)</tspan><tspan x="180.5" dy="3.4">LOCA_RCTR CHAR(7)</tspan><tspan x="180.5" dy="3.4">PROC_SRV DEC(15)</tspan><tspan x="180.5" dy="3.4">PROC_SRT DEC(15)</tspan><tspan x="180.5" dy="3.4">CMPRL_DATY CHAR(8)</tspan><tspan x="180.5" dy="3.4">CMRN_GRD CHAR(2)</tspan><tspan x="180.5" dy="3.4">CHRN_BLCS CHAR(7)</tspan><tspan x="180.5" dy="3.4">CSNR_DATY CHAR(8)</tspan><tspan x="180.5" dy="3.4">NOTE CHAR(99)</tspan><tspan x="180.5" dy="3.4">CHNG_CHPR CHAR(7)</tspan><tspan x="180.5" dy="3.4">CSTO_SRV DEC(15)</tspan></text></g>

<g id="n-gw4"><text class="t" x="230" y="335.8">SYS_PRCH</text><rect class="sh" x="230.8" y="337.8" width="41" height="57" rx="3"/><rect class="b w" x="230" y="337" width="41" height="57" rx="3"/><path class="sep" d="M230,346h41"/>
<text class="r" y="340.6"><tspan x="231.5">CUST_NO CHAR(9)</tspan><tspan x="231.5" dy="3.4">RQB_DATY CHAR(8)</tspan></text>
<text class="r" y="349.4"><tspan x="231.5">PRC_CHGE CHAR(7)</tspan><tspan x="231.5" dy="3.4">RSL_BBLA CHAR(7)</tspan><tspan x="231.5" dy="3.4">LN_CLSL CHAR(7)</tspan><tspan x="231.5" dy="3.4">PRE_CHRN CHAR(7)</tspan><tspan x="231.5" dy="3.4">LMR_SRV DEC(15)</tspan><tspan x="231.5" dy="3.4">LAR_SRV DEC(15)</tspan><tspan x="231.5" dy="3.4">LBY_DATY CHAR(8)</tspan><tspan x="231.5" dy="3.4">NCAPT CHAR(7)</tspan><tspan x="231.5" dy="3.4">CMPR_CLSN CHAR(2)</tspan><tspan x="231.5" dy="3.4">NOTE CHAR(99)</tspan></text></g>

<g id="n-gw5"><text class="t" x="278" y="337.8">SYS_OWNR</text><rect class="sh" x="278.8" y="339.8" width="37" height="104" rx="3"/><rect class="b w" x="278" y="339" width="37" height="104" rx="3"/><path class="sep" d="M278,348h37"/>
<text class="r" y="342.6"><tspan x="279.5">CUST_NO CHAR(9)</tspan><tspan x="279.5" dy="3.4">RQB_DATY CHAR(8)</tspan></text>
<text class="r" y="351.4"><tspan x="279.5">OWNR_RMS CHAR(9)</tspan><tspan x="279.5" dy="3.4">OWNR_RECT CHAR(7)</tspan><tspan x="279.5" dy="3.4">LAND_ARIA DEC(15)</tspan><tspan x="279.5" dy="3.4">LAND_PYNG DEC(15)</tspan><tspan x="279.5" dy="3.4">BLDG_ARIA DEC(15)</tspan><tspan x="279.5" dy="3.4">BLDG_PYNG DEC(15)</tspan><tspan x="279.5" dy="3.4">SCOG_CD CHAR(7)</tspan><tspan x="279.5" dy="3.4">BCNR_SRV DEC(15)</tspan><tspan x="279.5" dy="3.4">TRNR_CD CHAR(7)</tspan><tspan x="279.5" dy="3.4">ACT_OWN CHAR(7)</tspan><tspan x="279.5" dy="3.4">CHRN_CUL CHAR(7)</tspan><tspan x="279.5" dy="3.4">DRNS_CD CHAR(7)</tspan><tspan x="279.5" dy="3.4">NOTE CHAR(99)</tspan><tspan x="279.5" dy="3.4">RCW_DATY CHAR(8)</tspan><tspan x="279.5" dy="3.4">CNRN_RMS CHAR(9)</tspan><tspan x="279.5" dy="3.4">PRCN_DATY CHAR(8)</tspan><tspan x="279.5" dy="3.4">RMD_SRV DEC(15)</tspan><tspan x="279.5" dy="3.4">LNB_RCW CHAR(7)</tspan><tspan x="279.5" dy="3.4">CHRL_CLSN CHAR(2)</tspan><tspan x="279.5" dy="3.4">AVAL_CHRT CHAR(7)</tspan><tspan x="279.5" dy="3.4">OWNR_BTST CHAR(8)</tspan><tspan x="279.5" dy="3.4">OWNR_END CHAR(8)</tspan><tspan x="279.5" dy="3.4">BLLM_CLSN CHAR(2)</tspan><tspan x="279.5" dy="3.4">BOK_CHRT CHAR(7)</tspan><tspan x="279.5" dy="3.4">OWNR_ORG CHAR(7)</tspan><tspan x="279.5" dy="3.4">SL_PRBF INTEGER</tspan></text></g>

<g id="n-gw6"><text class="t" x="77" y="399.8">SYS_CHRD</text><rect class="sh" x="77.8" y="401.8" width="42" height="44" rx="3"/><rect class="b w" x="77" y="401" width="42" height="44" rx="3"/><path class="sep" d="M77,413.4h42"/>
<text class="r" y="404.6"><tspan x="78.5">CUST_NO CHAR(9)</tspan><tspan x="78.5" dy="3.4">RQB_DATY CHAR(8)</tspan><tspan x="78.5" dy="3.4">CHRD_BGNO INTEGER</tspan></text>
<text class="r" y="416.8"><tspan x="78.5">LOCA_LTRO CHAR(7)</tspan><tspan x="78.5" dy="3.4">CHNG_BRLR CHAR(7)</tspan><tspan x="78.5" dy="3.4">CRTE_CNCT CHAR(7)</tspan><tspan x="78.5" dy="3.4">CHRN_CHRS CHAR(7)</tspan><tspan x="78.5" dy="3.4">CHRG_CRET INTEGER</tspan><tspan x="78.5" dy="3.4">LRNT_BRLR CHAR(7)</tspan><tspan x="78.5" dy="3.4">NOTE CHAR(99)</tspan></text></g>

<g id="n-gw7"><text class="t" x="126" y="400.8">SYS_BCRL</text><rect class="sh" x="126.8" y="402.8" width="40" height="43" rx="3"/><rect class="b w" x="126" y="402" width="40" height="43" rx="3"/><path class="sep" d="M126,414.4h40"/>
<text class="r" y="405.6"><tspan x="127.5">CUST_NO CHAR(9)</tspan><tspan x="127.5" dy="3.4">RQB_DATY CHAR(8)</tspan><tspan x="127.5" dy="3.4">BCRL_COST INT</tspan></text>
<text class="r" y="417.8"><tspan x="127.5">CRNC_CHGE CHAR(7)</tspan><tspan x="127.5" dy="3.4">CRNC_BBLR CHAR(7)</tspan><tspan x="127.5" dy="3.4">BCRL_OWN CHAR(7)</tspan><tspan x="127.5" dy="3.4">BCRL_SRV DEC(15)</tspan><tspan x="127.5" dy="3.4">OCCO_DATY CHAR(8)</tspan><tspan x="127.5" dy="3.4">SCRL_DATY CHAR(8)</tspan><tspan x="127.5" dy="3.4">CRCL_DATY CHAR(8)</tspan></text></g>

<g id="n-gw8"><text class="t" x="179" y="401.8">SYS_DOXM</text><rect class="sh" x="179.8" y="403.8" width="42" height="27" rx="3"/><rect class="b w" x="179" y="403" width="42" height="27" rx="3"/><path class="sep" d="M179,418.8h42"/>
<text class="r" y="406.6"><tspan x="180.5">CUST_NO CHAR(9)</tspan><tspan x="180.5" dy="3.4">RQB_DATY CHAR(8)</tspan><tspan x="180.5" dy="3.4">BET_CD CHAR(7)</tspan><tspan x="180.5" dy="3.4">CREL_CD CHAR(7)</tspan></text>
<text class="r" y="422.2"><tspan x="180.5">SOBL_CRNL CHAR(7)</tspan></text></g>

<g id="n-gw9"><text class="t" x="230" y="402.8">SYS_BRCL</text><rect class="sh" x="230.8" y="404.8" width="40" height="41" rx="3"/><rect class="b w" x="230" y="404" width="40" height="41" rx="3"/><path class="sep" d="M230,419.8h40"/>
<text class="r" y="407.6"><tspan x="231.5">CUST_NO CHAR(9)</tspan><tspan x="231.5" dy="3.4">RQB_DATY CHAR(8)</tspan><tspan x="231.5" dy="3.4">BRCT_RQOL CHAR(7)</tspan><tspan x="231.5" dy="3.4">BRCL_BBC INTEGER</tspan></text>
<text class="r" y="423.2"><tspan x="231.5">CRCL_OWN CHAR(7)</tspan><tspan x="231.5" dy="3.4">RTOL_RQOL CHAR(7)</tspan><tspan x="231.5" dy="3.4">BRCL_CHGE CHAR(7)</tspan><tspan x="231.5" dy="3.4">BLNB_CRCL CHAR(7)</tspan><tspan x="231.5" dy="3.4">SONL_DATY CHAR(8)</tspan><tspan x="231.5" dy="3.4">BRCL_RT DEC(15)</tspan></text></g>

<g id="n-gw10"><text class="t" x="57" y="461.8">SYS_BLHS</text><rect class="sh" x="57.8" y="463.8" width="43" height="27" rx="1.5"/><rect class="b w" x="57" y="463" width="43" height="27" rx="1.5"/><path class="sep" d="M57,478.8h43"/>
<text class="r" y="466.6"><tspan x="58.5">BON_DATY CHAR(8)</tspan><tspan x="58.5" dy="3.4">BLT_OWN CHAR(7)</tspan><tspan x="58.5" dy="3.4">HOUS_ACT CHAR(7)</tspan><tspan x="58.5" dy="3.4">ACT_ACT CHAR(7)</tspan></text>
<text class="r" y="482.2"><tspan x="58.5">BBLR_RLBS CHAR(7)</tspan><tspan x="58.5" dy="3.4">ACT_NM CHAR(99)</tspan></text></g>

<g id="n-gw11"><text class="t" x="104" y="461.8">SYS_CRNR</text><rect class="sh" x="104.8" y="463.8" width="42" height="25" rx="1.5"/><rect class="b w" x="104" y="463" width="42" height="25" rx="1.5"/><path class="sep" d="M104,475.4h42"/>
<text class="r" y="466.6"><tspan x="105.5">BON_DATY CHAR(8)</tspan><tspan x="105.5" dy="3.4">TRR_BDTY CHAR(7)</tspan><tspan x="105.5" dy="3.4">TRNR_CD CHAR(7)</tspan></text>
<text class="r" y="478.8"><tspan x="105.5">CRNR_CTS DEC(15)</tspan></text></g>

<g id="n-gw12"><text class="t" x="152" y="461.8">SYS_BCUC</text><rect class="sh" x="152.8" y="463.8" width="44" height="25" rx="1.5"/><rect class="b w" x="152" y="463" width="44" height="25" rx="1.5"/><path class="sep" d="M152,468.6h44"/>
<text class="r" y="466.6"><tspan x="153.5">BCU_CODE INTEGER</tspan></text>
<text class="r" y="472"><tspan x="153.5">CUST_NO CHAR(9)</tspan></text></g>

<g id="n-gw13"><text class="t" x="203" y="461.8">SYS_RAGR</text><rect class="sh" x="203.8" y="463.8" width="43" height="25" rx="1.5"/><rect class="b w" x="203" y="463" width="43" height="25" rx="1.5"/><path class="sep" d="M203,475.4h43"/>
<text class="r" y="466.6"><tspan x="204.5">CUST_NO CHAR(9)</tspan><tspan x="204.5" dy="3.4">RQB_DATY CHAR(8)</tspan><tspan x="204.5" dy="3.4">RAG_RCW CHAR(8)</tspan></text>
<text class="r" y="478.8"><tspan x="204.5">TRNR_SRV DEC(15)</tspan><tspan x="204.5" dy="3.4">ACT_OWN CHAR(7)</tspan><tspan x="204.5" dy="3.4">NOTE CHAR(99)</tspan></text></g>

<g id="n-gw14"><text class="t" x="253" y="461.8">SYS_CRNB</text><rect class="sh" x="253.8" y="463.8" width="43" height="25" rx="1.5"/><rect class="b w" x="253" y="463" width="43" height="25" rx="1.5"/><path class="sep" d="M253,478.8h43"/>
<text class="r" y="466.6"><tspan x="254.5">CUST_NO CHAR(9)</tspan><tspan x="254.5" dy="3.4">CLSN_CD CHAR(7)</tspan><tspan x="254.5" dy="3.4">CRNB_TRNG CHAR(7)</tspan><tspan x="254.5" dy="3.4">RQB_DATY CHAR(8)</tspan></text>
<text class="r" y="482.2"><tspan x="254.5">RATE DECIMAL(5)</tspan><tspan x="254.5" dy="3.4">RQB_RCW CHAR(8)</tspan></text></g>
</svg>
